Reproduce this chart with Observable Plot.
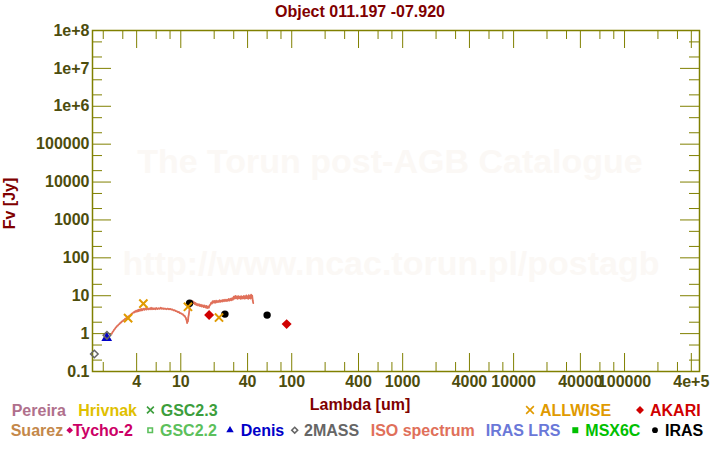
<!DOCTYPE html>
<html><head><meta charset="utf-8">
<script src="https://cdn.jsdelivr.net/npm/d3@7"></script>
<script src="https://cdn.jsdelivr.net/npm/@observablehq/plot@0.6"></script>
<style>
html,body{margin:0;padding:0;background:#fff;}
#chart{width:720px;height:450px;}
</style></head><body><div id="chart"></div>
<script>
// ---- data ----
const titleText = "Object 011.197 -07.920";
const xLabel = "Lambda [um]";
const yLabel = "Fv [Jy]";
const watermark1 = "The Torun post-AGB Catalogue";
const watermark2 = "http://www.ncac.torun.pl/postagb";

const isoLambda = [2.38,2.42,2.46,2.50,2.54,2.58,2.62,2.66,2.70,2.75,2.80,2.85,2.90,2.95,3.00,3.05,3.10,3.15,3.20,3.25,3.30,3.35,3.40,3.45,3.50,3.55,3.60,3.65,3.70,3.75,3.80,3.85,3.90,3.95,4.00,4.05,4.10,4.15,4.20,4.25,4.30,4.35,4.40,4.45,4.50,
 4.6,4.7,4.8,4.9,5.0,5.1,5.2,5.3,5.4,5.5,5.6,5.7,5.8,5.9,6.0,6.15,6.3,6.45,6.6,6.75,6.9,7.05,7.2,7.4,7.6,7.8,8.0,8.2,8.4,8.6,8.8,9.0,
 9.2,9.4,9.6,9.8,10.0,10.2,10.4,10.6,10.8,11.0,11.1,11.2,11.3,11.4,11.5,11.6,11.7,11.8,11.9,12.0,12.1,12.2,
 12.4,12.6,12.8,13.0,13.2,13.4,13.6,13.8,14.0,14.3,14.6,14.9,15.2,15.5,15.8,16.1,16.4,16.7,17.0,17.3,17.6,17.9,18.2,18.5,18.8,19.1,19.4,19.7,20.0,20.4,20.8,21.2,21.6,22.0,22.4,22.8,23.2,23.6,24.0,24.5,25.0,25.5,26.0,26.5,27.0,27.5,28.0,28.5,29.0,29.5,30.0,30.5,31.0,31.5,32.0,32.5,33.0,33.5,34.0,34.5,35.0,35.5,36.0,36.5,37.0,37.5,38.0,38.5,39.0,39.5,40.0,40.5,41.0,41.5,42.0,42.5,43.0,43.5,44.0,44.5,45.0];
const isoFlux = [0.98,1.08,1.16,1.25,1.31,1.42,1.48,1.58,1.62,1.74,1.80,1.92,1.98,2.10,2.14,2.28,2.32,2.48,2.50,2.62,2.70,2.80,2.86,2.98,3.02,3.18,3.30,3.42,3.50,3.66,3.60,3.85,3.75,4.00,3.80,4.10,3.90,4.25,3.95,4.30,4.05,4.40,4.10,4.45,4.15,
 4.55,4.25,4.65,4.30,4.70,4.35,4.62,4.40,4.80,4.38,4.70,4.42,4.60,4.40,4.75,4.45,4.68,4.50,4.85,4.50,4.70,4.45,4.62,4.40,4.58,4.38,4.50,4.30,4.38,4.12,4.15,3.92,
 3.90,3.70,3.72,3.50,3.48,3.30,3.28,3.00,2.98,2.70,2.62,2.35,2.25,1.90,2.20,2.10,2.80,3.10,3.80,4.60,5.50,6.40,
 7.40,6.80,7.20,6.40,6.70,6.00,6.40,5.70,6.10,5.50,6.00,5.30,5.80,5.20,5.60,5.00,5.50,4.90,5.40,4.70,5.20,4.80,5.60,5.80,6.60,6.20,7.20,6.60,7.30,6.50,7.40,6.70,7.30,6.80,7.60,6.90,7.50,7.00,7.80,7.10,7.90,7.20,7.80,7.30,8.20,7.40,8.30,7.60,8.60,7.80,9.40,8.40,9.90,8.50,9.60,8.30,9.80,8.60,9.50,8.30,9.70,8.40,9.40,8.50,9.90,8.40,9.60,8.50,10.2,8.60,9.60,8.30,10.4,8.70,9.80,8.40,10.6,8.80,10.0,7.60,6.40];

const twomassLambda = [1.662, 2.159];
const twomassFlux = [0.29, 0.90];
const denisLambda = [2.15];
const denisFlux = [0.77];
const allwiseLambda = [3.35, 4.6, 11.6, 22.1];
const allwiseFlux = [2.56, 6.2, 5.1, 2.66];
const irasLambda = [12, 25, 60];
const irasFlux = [6.3, 3.27, 3.08];
const akariLambda = [18, 90];
const akariFlux = [3.08, 1.78];

const xMajorTicks = [4,10,40,100,400,1000,4000,10000,40000,100000,400000];
const xMinorTicksTop = [2,3,6,8,20,30,60,80,200,300,600,800,2000,3000,6000,8000,20000,30000,60000,80000,200000,300000];
const xMinorTicksBottom = [2,6,8,20,30,60,80,200,300,600,800,2000,3000,6000,8000,20000,30000,60000,80000,200000,300000];
const yMajorTicks = [0.1,1,10,100,1000,10000,100000,1e6,1e7,1e8];
const yMinorTicks = [0.2,0.5,2,5,20,50,200,500,2000,5000,2e4,5e4,2e5,5e5,2e6,5e6,2e7,5e7];

const legendNames  = ["Pereira","Hrivnak","GSC2.3","ALLWISE","AKARI","Suarez","Tycho-2","GSC2.2","Denis","2MASS","ISO spectrum","IRAS LRS","MSX6C","IRAS"];
const legendColors = ["#b0708c","#e0c000","#3c9e3c","#e09a00","#d00000","#c4884a","#cc0066","#5cc05c","#0000c8","#666666","#e0705a","#6a78d8","#00c000","#000000"];
const legendSymbols = [null,null,"times","times","diamond",null,"diamond-small","square-open","triangle","diamond-open",null,null,"square","circle"];

// ---- layout ----
const W = 720, H = 450, mL = 92, mR = 21, mT = 30, mB = 79;
const frameW = W - mL - mR, frameH = H - mT - mB;
const olive = "#808000", tickText = "#4d4d0d", darkRed = "#800000";
const font = "'Liberation Sans', Arial, Helvetica, sans-serif";
const fmt = d => d > 1e5 ? d.toExponential() : String(d);

const plot = Plot.plot({
  width: W, height: H,
  marginLeft: mL, marginRight: mR, marginTop: mT, marginBottom: mB,
  style: {fontFamily: font, background: "white"},
  x: {type: "log", domain: [1.6, 4.74e5], axis: null},
  y: {type: "log", domain: [0.1, 1e8], axis: null},
  marks: [
    Plot.tickX(xMajorTicks, {x: d => d, stroke: olive, insetTop: frameH - 18}),
    Plot.tickX(xMinorTicksBottom, {x: d => d, stroke: olive, insetTop: frameH - 9}),
    Plot.tickX(xMajorTicks, {x: d => d, stroke: olive, insetBottom: frameH - 18}),
    Plot.tickX(xMinorTicksTop, {x: d => d, stroke: olive, insetBottom: frameH - 9}),
    Plot.tickY(yMajorTicks, {y: d => d, stroke: olive, insetRight: frameW - 19}),
    Plot.tickY(yMinorTicks, {y: d => d, stroke: olive, insetRight: frameW - 10}),
    Plot.tickY(yMajorTicks, {y: d => d, stroke: olive, insetLeft: frameW - 19}),
    Plot.tickY(yMinorTicks, {y: d => d, stroke: olive, insetLeft: frameW - 10}),
    Plot.frame({stroke: olive, strokeWidth: 1.5}),
    Plot.text(xMajorTicks, {x: d => d, frameAnchor: "bottom", lineAnchor: "top", dy: 4.5, text: fmt,
      fill: tickText, fontSize: 16, fontWeight: "bold", textAnchor: "middle"}),
    Plot.text(yMajorTicks, {y: d => d, frameAnchor: "left", textAnchor: "end", dx: -3, text: fmt,
      fill: tickText, fontSize: 16, fontWeight: "bold"}),
    Plot.line(isoLambda, {x: isoLambda, y: isoFlux, stroke: "#e0705a", strokeWidth: 1.8}),
    Plot.dot(denisLambda, {x: denisLambda, y: denisFlux, symbol: "triangle", fill: "#0000c8", r: 4}),
    Plot.dot(twomassLambda, {x: twomassLambda, y: twomassFlux, symbol: "diamond2", stroke: "#666666", fill: "none", strokeWidth: 1.5, r: 3.4}),
    Plot.dot(irasLambda, {x: irasLambda, y: irasFlux, symbol: "circle", fill: "#000000", r: 3.7}),
    Plot.dot(akariLambda, {x: akariLambda, y: akariFlux, symbol: "diamond2", fill: "#d00000", r: 4.5}),
    Plot.dot(allwiseLambda, {x: allwiseLambda, y: allwiseFlux, symbol: "times", stroke: "#e09a00", strokeWidth: 2, r: 3.8})
  ]
});

const svg = d3.select(plot);
const wm = svg.insert("g", ":first-child").attr("font-family", font).attr("font-size", 34)
  .attr("font-weight", "bold").attr("fill", "#fbf8f5").attr("text-anchor", "middle");
wm.append("text").attr("x", 390).attr("y", 172.6).text(watermark1);
wm.append("text").attr("x", 391).attr("y", 274.8).text(watermark2);

const g = svg.append("g").attr("font-family", font).attr("font-size", 16).attr("font-weight", "bold")
  .attr("text-anchor", "start");
g.append("text").attr("x", 360).attr("y", 16.5).attr("text-anchor", "middle").attr("fill", darkRed).text(titleText);
g.append("text").attr("x", 360).attr("y", 409.5).attr("text-anchor", "middle").attr("fill", darkRed).text(xLabel);
g.append("text").attr("transform", "translate(15,203.5) rotate(-90)").attr("text-anchor", "middle").attr("fill", darkRed).text(yLabel);

const legendRow   = [0,0,0,0,0,1,1,1,1,1,1,1,1,1];
const legendTextX = [11.7,78.3,160.7,540,650,10.7,72.7,160,240.7,304,370.7,485.7,585.3,665];
const legendSymX  = [null,null,150.4,530,640,null,69.7,150.2,230,294.7,null,null,575.3,655];
const rowBase = [415.8, 435.5], rowMid = [410, 430.2];
const symDefs = {
  "times":         {type: d3.symbolTimes, size: 40, fill: false},
  "diamond":       {type: d3.symbolDiamond2, size: 40, fill: true},
  "diamond-small": {type: d3.symbolDiamond2, size: 28, fill: true},
  "square-open":   {type: d3.symbolSquare, size: 20, fill: false},
  "square":        {type: d3.symbolSquare, size: 36, fill: true},
  "triangle":      {type: d3.symbolTriangle, size: 24, fill: true},
  "diamond-open":  {type: d3.symbolDiamond2, size: 22, fill: false},
  "circle":        {type: d3.symbolCircle, size: 26, fill: true}
};
legendNames.forEach((name, i) => {
  const r = legendRow[i], c = legendColors[i];
  g.append("text").attr("x", legendTextX[i]).attr("y", rowBase[r]).attr("text-anchor", "start").attr("fill", c).text(name);
  const s = legendSymbols[i];
  if (s) {
    const def = symDefs[s];
    const sz = i === 2 ? 32 : def.size;
    g.append("path").attr("d", d3.symbol().type(def.type).size(sz)())
      .attr("transform", `translate(${legendSymX[i]},${rowMid[r]})`)
      .attr("fill", def.fill ? c : "none")
      .attr("stroke", def.fill ? "none" : c)
      .attr("stroke-width", def.fill ? 0 : 1.6);
  }
});

document.getElementById("chart").appendChild(plot);
</script></body></html>
